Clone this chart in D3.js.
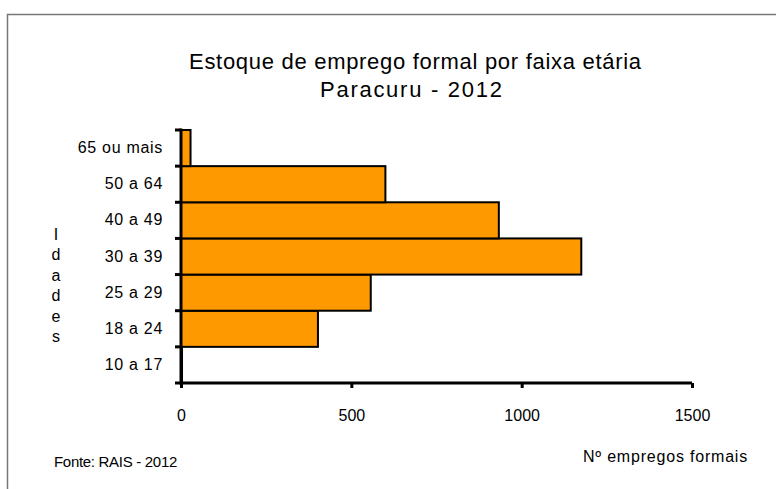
<!DOCTYPE html>
<html>
<head>
<meta charset="utf-8">
<script src="https://cdn.jsdelivr.net/npm/d3@7"></script>
<style>
  body { margin: 0; background: #fff; }
  svg { font-family: "Liberation Sans", Arial, sans-serif; }
</style>
</head>
<body>
<div id="chart"></div>
<script>
// faixas etarias, de baixo para cima
const faixas = ['10 a 17', '18 a 24', '25 a 29', '30 a 39', '40 a 49', '50 a 64', '65 ou mais']
const empregos = [3, 402, 557, 1175, 933, 600, 28]
const xTicks = [0, 500, 1000, 1500]

const w = 776
const h = 489

const svg = d3.select('#chart')
  .append('svg')
  .attr('width', w)
  .attr('height', h)

const chartData = faixas.map((f, i) => ({ faixa: f, valor: empregos[i] }))

// moldura (so esquerda e topo aparecem)
svg.append('path')
  .attr('d', 'M7.5,' + h + 'V14.5H' + w)
  .attr('fill', 'none')
  .attr('stroke', '#777')
  .attr('stroke-width', 1.5)

const margin = { top: 130, left: 181, bottom: 106 }
const plotBottom = h - margin.bottom

const xScale = d3.scaleLinear()
  .domain([0, 1500])
  .range([margin.left, 692])

const yScale = d3.scaleBand()
  .domain(faixas.slice().reverse())
  .range([margin.top, plotBottom])
  .padding(0)

// barras
svg.selectAll('rect.bar')
  .data(chartData)
  .enter()
  .append('rect')
  .attr('class', 'bar')
  .attr('x', xScale(0))
  .attr('y', d => yScale(d.faixa))
  .attr('width', d => xScale(d.valor) - xScale(0))
  .attr('height', yScale.bandwidth())
  .attr('fill', '#FF9900')
  .attr('stroke', '#000')
  .attr('stroke-width', 2)

// eixo x
const xAxis = d3.axisBottom(xScale)
  .tickValues(xTicks)
  .tickFormat(d3.format('d'))
  .tickSize(5)
  .tickPadding(22)

const gx = svg.append('g')
  .attr('transform', 'translate(0,' + plotBottom + ')')
  .call(xAxis)
gx.select('.domain').attr('stroke-width', 3).attr('d', 'M' + xScale(0) + ',0H' + xScale(1500))
gx.selectAll('.tick line').attr('stroke-width', 3)
gx.selectAll('.tick text')
  .attr('font-size', 16)
  .attr('font-family', '"Liberation Sans", Arial, sans-serif')
  .attr('fill', '#000')

// eixo y: rotulos no centro da faixa, tracos nos limites
const yAxis = d3.axisLeft(yScale)
  .tickSize(0)
  .tickPadding(18)

const gy = svg.append('g')
  .attr('transform', 'translate(' + margin.left + ',0)')
  .call(yAxis)
gy.select('.domain').remove()
gy.selectAll('.tick text')
  .attr('font-size', 16)
  .attr('letter-spacing', 0.7)
  .attr('font-family', '"Liberation Sans", Arial, sans-serif')
  .attr('fill', '#000')

const limites = d3.range(faixas.length + 1).map(i => margin.top + i * yScale.step())
svg.selectAll('line.ytick')
  .data(limites)
  .enter()
  .append('line')
  .attr('x1', margin.left - 6)
  .attr('x2', margin.left)
  .attr('y1', d => d)
  .attr('y2', d => d)
  .attr('stroke', '#000')
  .attr('stroke-width', 3)

svg.append('line')
  .attr('x1', margin.left)
  .attr('x2', margin.left)
  .attr('y1', margin.top - 1.5)
  .attr('y2', plotBottom + 1.5)
  .attr('stroke', '#000')
  .attr('stroke-width', 3)

// titulo
svg.append('text')
  .attr('x', 415)
  .attr('y', 69)
  .attr('text-anchor', 'middle')
  .attr('font-size', 22)
  .attr('textLength', 452)
  .attr('lengthAdjust', 'spacing')
  .text('Estoque de emprego formal por faixa etária')
svg.append('text')
  .attr('x', 411)
  .attr('y', 97)
  .attr('text-anchor', 'middle')
  .attr('font-size', 22)
  .attr('textLength', 182)
  .attr('lengthAdjust', 'spacing')
  .text('Paracuru - 2012')

// titulo do eixo y, letras empilhadas
const letras = 'Idades'.split('')
svg.selectAll('text.ylab')
  .data(letras)
  .enter()
  .append('text')
  .attr('class', 'ylab')
  .attr('x', 56)
  .attr('y', (d, i) => 240 + i * 20.4)
  .attr('text-anchor', 'middle')
  .attr('font-size', 16)
  .text(d => d)

// titulo do eixo x
svg.append('text')
  .attr('x', 748)
  .attr('y', 462)
  .attr('text-anchor', 'end')
  .attr('font-size', 16)
  .attr('letter-spacing', 0.8)
  .text('Nº empregos formais')

// fonte
svg.append('text')
  .attr('x', 54)
  .attr('y', 467)
  .attr('font-size', 15)
  .attr('letter-spacing', -0.3)
  .text('Fonte: RAIS - 2012')
</script>
</body>
</html>
